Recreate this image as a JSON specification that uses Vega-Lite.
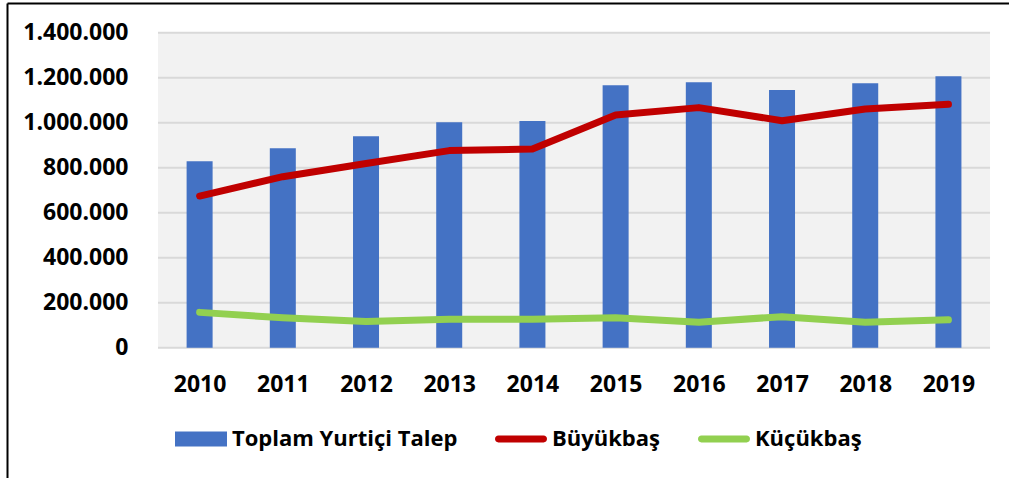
{
  "$schema": "https://vega.github.io/schema/vega-lite/v6.json",
  "autosize": {"type": "none"},
  "width": 1002,
  "height": 475,
  "padding": {"left": 7, "top": 3, "right": 0, "bottom": 0},
  "background": "white",
  "config": {
    "view": {"stroke": null},
    "font": "Open Sans",
    "scale": {"continuousPadding": 0},
    "locale": {"number": {"decimal": ",", "thousands": ".", "grouping": [3], "currency": ["", ""]}}
  },
  "datasets": {
    "main": [
      {"year": 2010, "series": "Toplam Yurtiçi Talep", "value": 829000},
      {"year": 2011, "series": "Toplam Yurtiçi Talep", "value": 887000},
      {"year": 2012, "series": "Toplam Yurtiçi Talep", "value": 940000},
      {"year": 2013, "series": "Toplam Yurtiçi Talep", "value": 1002000},
      {"year": 2014, "series": "Toplam Yurtiçi Talep", "value": 1008000},
      {"year": 2015, "series": "Toplam Yurtiçi Talep", "value": 1166000},
      {"year": 2016, "series": "Toplam Yurtiçi Talep", "value": 1180000},
      {"year": 2017, "series": "Toplam Yurtiçi Talep", "value": 1145000},
      {"year": 2018, "series": "Toplam Yurtiçi Talep", "value": 1175000},
      {"year": 2019, "series": "Toplam Yurtiçi Talep", "value": 1206000},
      {"year": 2010, "series": "Büyükbaş", "value": 674000},
      {"year": 2011, "series": "Büyükbaş", "value": 760000},
      {"year": 2012, "series": "Büyükbaş", "value": 819000},
      {"year": 2013, "series": "Büyükbaş", "value": 876000},
      {"year": 2014, "series": "Büyükbaş", "value": 883000},
      {"year": 2015, "series": "Büyükbaş", "value": 1034000},
      {"year": 2016, "series": "Büyükbaş", "value": 1067000},
      {"year": 2017, "series": "Büyükbaş", "value": 1009000},
      {"year": 2018, "series": "Büyükbaş", "value": 1061000},
      {"year": 2019, "series": "Büyükbaş", "value": 1082000},
      {"year": 2010, "series": "Küçükbaş", "value": 157000},
      {"year": 2011, "series": "Küçükbaş", "value": 133000},
      {"year": 2012, "series": "Küçükbaş", "value": 116000},
      {"year": 2013, "series": "Küçükbaş", "value": 126000},
      {"year": 2014, "series": "Küçükbaş", "value": 126000},
      {"year": 2015, "series": "Küçükbaş", "value": 133000},
      {"year": 2016, "series": "Küçükbaş", "value": 113000},
      {"year": 2017, "series": "Küçükbaş", "value": 138000},
      {"year": 2018, "series": "Küçükbaş", "value": 113000},
      {"year": 2019, "series": "Küçükbaş", "value": 124000}
    ],
    "grid": [
      {"g": 0}, {"g": 200000}, {"g": 400000}, {"g": 600000},
      {"g": 800000}, {"g": 1000000}, {"g": 1200000}, {"g": 1400000}
    ]
  },
  "resolve": {"axis": {"x": "independent", "y": "independent"}},
  "layer": [
    {
      "data": {"values": [{"area": "plot"}]},
      "mark": {"type": "rect", "color": "#F2F2F2"},
      "encoding": {
        "x": {"datum": 2009.5, "type": "quantitative",
              "scale": {"domain": [2007.685, 2019.728], "nice": false, "zero": false, "padding": 0},
              "axis": {"orient": "top", "domain": true, "domainColor": "#000000", "domainWidth": 2,
                       "labels": false, "ticks": false, "grid": false, "title": null}},
        "x2": {"datum": 2019.5},
        "y": {"datum": 0, "type": "quantitative",
              "scale": {"domain": [-579111, 1532000], "nice": false, "zero": false, "padding": 0},
              "axis": {"orient": "left", "domain": true, "domainColor": "#000000", "domainWidth": 2,
                       "labels": false, "ticks": false, "grid": false, "title": null}},
        "y2": {"datum": 1400000}
      }
    },
    {
      "data": {"name": "grid"},
      "mark": {"type": "rule", "color": "#D9D9D9", "strokeWidth": 2},
      "encoding": {
        "x": {"datum": 2009.5, "type": "quantitative",
              "scale": {"domain": [2007.685, 2019.728], "nice": false, "zero": false, "padding": 0}, "axis": null},
        "x2": {"datum": 2019.5},
        "y": {"field": "g", "type": "quantitative",
              "scale": {"domain": [-579111, 1532000], "nice": false, "zero": false, "padding": 0}, "axis": null}
      }
    },
    {
      "data": {"name": "main"},
      "transform": [{"filter": "datum.series === 'Toplam Yurtiçi Talep'"}],
      "mark": {"type": "bar", "size": 26},
      "encoding": {
        "x": {"field": "year", "type": "quantitative",
              "scale": {"domain": [2007.685, 2019.728], "nice": false, "zero": false, "padding": 0},
              "axis": {"orient": "bottom", "offset": -105, "values": [2010, 2011, 2012, 2013, 2014, 2015, 2016, 2017, 2018, 2019],
                       "format": "d", "domain": false, "ticks": false, "grid": false, "title": null,
                       "labelFont": "Open Sans", "labelFontSize": 23, "labelFontWeight": "bold",
                       "labelColor": "#000000", "labelPadding": 0, "labelBaseline": "top"}},
        "y": {"field": "value", "type": "quantitative",
              "scale": {"domain": [-579111, 1532000], "nice": false, "zero": false, "padding": 0},
              "axis": {"orient": "left", "offset": -123, "values": [0, 200000, 400000, 600000, 800000, 1000000, 1200000, 1400000],
                       "format": ",.0f", "domain": false, "ticks": false, "grid": false, "title": null,
                       "labelFont": "Open Sans", "labelFontSize": 23, "labelFontWeight": "bold",
                       "labelColor": "#000000", "labelPadding": 2}},
        "y2": {"datum": 0},
        "color": {"field": "series", "type": "nominal",
                  "scale": {"domain": ["Toplam Yurtiçi Talep", "Büyükbaş", "Küçükbaş"],
                            "range": ["#4472C4", "#C00000", "#92D050"]},
                  "legend": {"orient": "none", "legendX": 168, "legendY": 410, "direction": "horizontal",
                             "title": null, "labelFont": "Open Sans", "labelFontSize": 22, "labelFontWeight": "bold",
                             "labelColor": "#000000", "labelLimit": 400, "symbolSize": 2704, "labelOffset": 5,
                             "columnPadding": 37, "padding": 0,
                             "encode": {"symbols": {"update": {
                               "shape": {"signal": "datum.value === 'Toplam Yurtiçi Talep' ? 'M-1,-0.29H1V0.29H-1Z' : 'M-0.87,-0.13H0.87A0.13,0.13 0 0 1 0.87,0.13H-0.87A0.13,0.13 0 0 1 -0.87,-0.13Z'"},
                               "fill": {"signal": "scale('color', datum.value)"},
                               "stroke": {"value": "transparent"},
                               "strokeWidth": {"value": 0},
                               "opacity": {"value": 1},
                               "fillOpacity": {"value": 1}}}}}}
      }
    },
    {
      "data": {"name": "main"},
      "transform": [{"filter": "datum.series !== 'Toplam Yurtiçi Talep'"}],
      "mark": {"type": "line", "strokeWidth": 7, "strokeCap": "round", "strokeJoin": "round"},
      "encoding": {
        "x": {"field": "year", "type": "quantitative",
              "scale": {"domain": [2007.685, 2019.728], "nice": false, "zero": false, "padding": 0}, "axis": null},
        "y": {"field": "value", "type": "quantitative",
              "scale": {"domain": [-579111, 1532000], "nice": false, "zero": false, "padding": 0}, "axis": null},
        "color": {"field": "series", "type": "nominal"}
      }
    }
  ]
}
